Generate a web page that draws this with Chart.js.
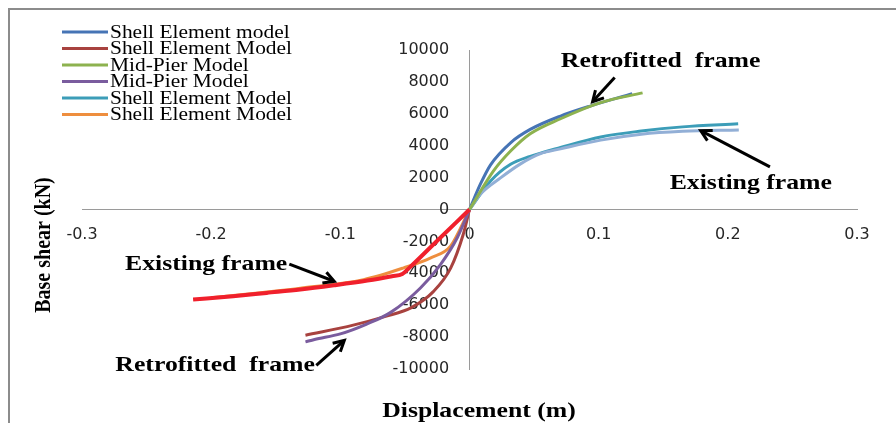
<!DOCTYPE html>
<html>
<head>
<meta charset="utf-8">
<script src="https://cdn.jsdelivr.net/npm/chart.js@4.4.0/dist/chart.umd.min.js"></script>
<style>
  html, body { margin: 0; padding: 0; background: #fff; }
  #wrap { position: relative; width: 896px; height: 423px; }
</style>
</head>
<body>
<div id="wrap"><canvas id="chart" width="896" height="423"></canvas></div>
<script>
// pushover curves: displacement (m) vs base shear (kN)
var shellRetroPosX = [0, 0.0085, 0.0163, 0.032, 0.047, 0.0705, 0.094, 0.126];
var shellRetroPosY = [0, 1600, 2800, 4200, 5020, 5860, 6500, 7260];

var shellRetroNegX = [0, -0.005, -0.0145, -0.028, -0.045, -0.065, -0.09, -0.127];
var shellRetroNegY = [0, -1600, -3660, -5150, -6150, -6700, -7250, -7880];

var pierRetroPosX = [0, 0.0186, 0.032, 0.047, 0.0705, 0.1015, 0.134];
var pierRetroPosY = [0, 2420, 3680, 4750, 5690, 6700, 7310];

var pierRetroNegX = [0, -0.0095, -0.0225, -0.038, -0.061, -0.08, -0.1, -0.12, -0.127];
var pierRetroNegY = [0, -1770, -3450, -4920, -6450, -7200, -7800, -8150, -8300];

var shellExistPosX = [0, 0.0163, 0.0318, 0.047, 0.0705, 0.1016, 0.133, 0.165, 0.208];
var shellExistPosY = [0, 1790, 2840, 3330, 3890, 4550, 4920, 5180, 5370];

var shellExistNegX = [0, -0.0147, -0.03, -0.051, -0.082, -0.131, -0.16, -0.2];
var shellExistNegY = [0, -2300, -3030, -3660, -4400, -4940, -5200, -5540];

var pierExistPosX = [0, 0.0085, 0.024, 0.0395, 0.055, 0.0705, 0.1016, 0.133, 0.165, 0.2085];
var pierExistPosY = [0, 970, 1980, 2860, 3500, 3800, 4350, 4720, 4900, 4990];

var pierExistNegX = [0, -0.026, -0.047, -0.052, -0.06, -0.079, -0.105, -0.131, -0.157, -0.183, -0.214];
var pierExistNegY = [0, -2040, -3690, -4050, -4180, -4450, -4750, -5020, -5230, -5440, -5650];

var seriesLabels = ['Shell Element model', 'Shell Element Model', 'Mid-Pier Model',
                    'Mid-Pier Model', 'Shell Element Model', 'Shell Element Model'];

var xTickValues = [-0.3, -0.2, -0.1, 0, 0.1, 0.2, 0.3];
var yTickValues = [-10000, -8000, -6000, -4000, -2000, 0, 2000, 4000, 6000, 8000, 10000];

// text + arrow callouts, in data units
var callouts = [
    { text: 'Retrofitted  frame', x: 0.148, y: 9280, tail: [0.1124, 8270], head: [0.0953, 6760] },
    { text: 'Existing frame', x: 0.2178, y: 1670, tail: [0.2326, 2670], head: [0.179, 4940] },
    { text: 'Existing frame', x: -0.2039, y: -3430, tail: [-0.1395, -3430], head: [-0.1047, -4500] },
    { text: 'Retrofitted  frame', x: -0.1969, y: -9780, tail: [-0.1186, -9780], head: [-0.0969, -8210] }
];

function toPoints(xs, ys) {
    var pts = [];
    for (var i = 0; i < xs.length; i++) {
        pts.push({ x: xs[i], y: ys[i] });
    }
    return pts;
}

function stretchText(ctx, text, x, y, sx) {
    ctx.save();
    ctx.translate(x, y);
    ctx.scale(sx, 1);
    ctx.fillText(text, 0, 0);
    ctx.restore();
}

function drawArrow(ctx, x1, y1, x2, y2) {
    var ang = Math.atan2(y2 - y1, x2 - x1);
    var len = 12;
    ctx.save();
    ctx.strokeStyle = '#000';
    ctx.lineWidth = 3;
    ctx.lineCap = 'butt';
    ctx.beginPath();
    ctx.moveTo(x1, y1);
    ctx.lineTo(x2 - Math.cos(ang) * 1.5, y2 - Math.sin(ang) * 1.5);
    ctx.stroke();
    ctx.lineJoin = 'miter';
    ctx.beginPath();
    ctx.moveTo(x2 - Math.cos(ang - 0.5) * len, y2 - Math.sin(ang - 0.5) * len);
    ctx.lineTo(x2, y2);
    ctx.lineTo(x2 - Math.cos(ang + 0.5) * len, y2 - Math.sin(ang + 0.5) * len);
    ctx.stroke();
    ctx.restore();
}

var decorPlugin = {
    id: 'decor',
    afterDraw: function (chart) {
        var ctx = chart.ctx;
        var xs = chart.scales.x;
        var ys = chart.scales.y;

        // outer frame (top and left edges only are visible)
        ctx.save();
        ctx.strokeStyle = '#8c8c8c';
        ctx.lineWidth = 2;
        ctx.beginPath();
        ctx.moveTo(9, 423);
        ctx.lineTo(9, 9);
        ctx.lineTo(896, 9);
        ctx.stroke();
        ctx.restore();

        // legend
        ctx.save();
        ctx.textBaseline = 'middle';
        ctx.textAlign = 'left';
        ctx.fillStyle = '#000';
        ctx.font = '18px "Liberation Serif"';
        var ds = chart.data.datasets;
        var row = 0;
        for (var i = 0; i < ds.length; i++) {
            if (!ds[i].label) continue;
            var ly = 32 + row * 16.5;
            ctx.strokeStyle = ds[i].borderColor;
            ctx.lineWidth = 3;
            ctx.beginPath();
            ctx.moveTo(62, ly);
            ctx.lineTo(108, ly);
            ctx.stroke();
            stretchText(ctx, ds[i].label, 110, ly + 1, 1.19);
            row++;
        }
        ctx.restore();

        // callouts
        ctx.save();
        ctx.fillStyle = '#000';
        ctx.textBaseline = 'middle';
        ctx.textAlign = 'center';
        ctx.font = 'bold 22px "Liberation Serif"';
        callouts.forEach(function (c) {
            stretchText(ctx, c.text, xs.getPixelForValue(c.x), ys.getPixelForValue(c.y), 1.17);
            drawArrow(ctx, xs.getPixelForValue(c.tail[0]), ys.getPixelForValue(c.tail[1]),
                xs.getPixelForValue(c.head[0]), ys.getPixelForValue(c.head[1]));
        });
        ctx.restore();

        // axis titles
        ctx.save();
        ctx.fillStyle = '#000';
        ctx.textBaseline = 'middle';
        ctx.textAlign = 'center';
        ctx.font = 'bold 22px "Liberation Serif"';
        stretchText(ctx, 'Displacement (m)', 479, 411, 1.17);
        ctx.font = 'bold 20px "Liberation Serif"';
        ctx.translate(44, 245);
        ctx.scale(1.17, 1);
        ctx.rotate(-Math.PI / 2);
        ctx.fillText('Base shear (kN)', 0, 0);
        ctx.restore();
    }
};

Chart.defaults.font.family = '"DejaVu Sans"';

new Chart(document.getElementById('chart').getContext('2d'), {
    type: 'scatter',
    data: {
        datasets: [
            { label: seriesLabels[0], data: toPoints(shellRetroPosX, shellRetroPosY), borderColor: '#4674B5', order: 4 },
            { label: seriesLabels[1], data: toPoints(shellRetroNegX, shellRetroNegY), borderColor: '#A8423F', order: 4 },
            { label: seriesLabels[2], data: toPoints(pierRetroPosX, pierRetroPosY), borderColor: '#8DB24F', order: 1 },
            { label: seriesLabels[3], data: toPoints(pierRetroNegX, pierRetroNegY), borderColor: '#7A5C9E', order: 3 },
            { label: seriesLabels[4], data: toPoints(shellExistPosX, shellExistPosY), borderColor: '#3C9DB8', order: 5 },
            { label: seriesLabels[5], data: toPoints(shellExistNegX, shellExistNegY), borderColor: '#EE8E3E', order: 5 },
            { label: '', data: toPoints(pierExistPosX, pierExistPosY), borderColor: '#92AFD6', order: 2 },
            { label: '', data: toPoints(pierExistNegX, pierExistNegY), borderColor: '#F0202C', borderWidth: 4, order: 0 }
        ]
    },
    options: {
        responsive: false,
        animation: false,
        layout: { padding: { left: 82, right: 39, top: 50, bottom: 54 } },
        showLine: true,
        elements: {
            point: { radius: 0 },
            line: { borderWidth: 3, cubicInterpolationMode: 'monotone', fill: false }
        },
        plugins: {
            legend: { display: false },
            tooltip: { enabled: false }
        },
        scales: {
            x: {
                type: 'linear',
                position: { y: 0 },
                min: -0.3,
                max: 0.3,
                afterBuildTicks: function (s) {
                    s.ticks = xTickValues.map(function (v) { return { value: v }; });
                },
                grid: { display: false, drawTicks: false },
                border: { display: true, color: '#9a9a9a', width: 1 },
                ticks: {
                    padding: 16,
                    color: '#262626',
                    font: { size: 16 },
                    maxRotation: 0,
                    callback: function (v) { return String(Math.round(v * 10) / 10); }
                }
            },
            y: {
                type: 'linear',
                position: { x: 0 },
                min: -10000,
                max: 10000,
                afterBuildTicks: function (s) {
                    s.ticks = yTickValues.map(function (v) { return { value: v }; });
                },
                grid: { display: false, drawTicks: false },
                border: { display: true, color: '#9a9a9a', width: 1 },
                ticks: {
                    color: '#262626',
                    font: { size: 16 },
                    // centred axes ignore tick padding, so keep the gap with trailing spaces
                    callback: function (v) { return String(v) + '    '; }
                }
            }
        }
    },
    plugins: [decorPlugin]
});
</script>
</body>
</html>
